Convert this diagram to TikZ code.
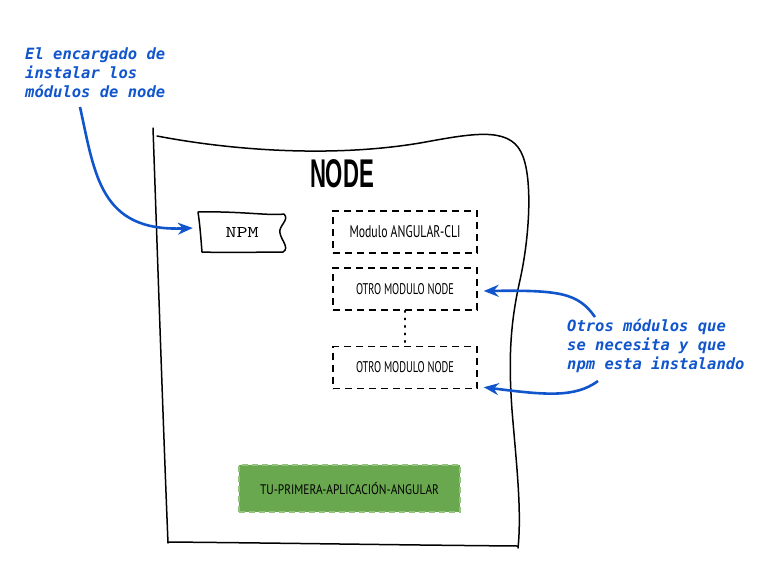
\documentclass[tikz,border=0pt]{standalone}
\usepackage{fontspec}
\usetikzlibrary{arrows.meta}
\newfontfamily\annfont{DejaVu Sans Mono}
\newfontfamily\handfont{PT Sans}
\newfontfamily\titlefont{Liberation Sans}
\definecolor{annblue}{HTML}{1155CC}
\definecolor{appgreen}{HTML}{6AA84F}
\definecolor{appborder}{HTML}{93C47D}
\tikzset{
  sketch/.style={line width=1.5pt, line cap=round, line join=round},
  modbox/.style={draw, line width=1.4pt, dash pattern=on 7pt off 5pt, minimum width=144pt, minimum height=42pt, inner sep=0pt},
  annot/.style={font=\annfont\fontsize{15.5}{19}\selectfont\bfseries\itshape, text=annblue, align=left, inner sep=0pt, anchor=north west},
  annarrow/.style={draw=annblue, line width=2.6pt, -{Stealth[length=15pt,width=12pt,inset=5pt]}},
}
\begin{document}
\begin{tikzpicture}[x=1pt,y=-1pt]
\useasboundingbox (0,0) rectangle (762,566);
% big NODE outline
\draw[sketch] (153,128) .. controls (158,270) and (163,420) .. (168,543);
\draw[sketch] (157,136) .. controls (230,150) and (330,158) .. (420,143)
  .. controls (470,134) and (508,126) .. (521,152)
  .. controls (533,175) and (530,235) .. (520,280)
  .. controls (511,320) and (508,355) .. (512,410)
  .. controls (516,460) and (522,510) .. (518,548);
\draw[sketch] (168,542) .. controls (280,543) and (400,545) .. (518,546);
% title
\node (title) at (342,174) {\resizebox{64pt}{28pt}{\titlefont\bfseries NODE}};
% NPM
\node[minimum width=86pt, minimum height=39pt, inner sep=0pt] (npm) at (242,232) {\resizebox{33pt}{10pt}{\ttfamily NPM}};
\draw[sketch] (198,212) .. controls (240,211) and (270,216) .. (284,214)
  .. controls (290,220) and (278,226) .. (280,233)
  .. controls (281,240) and (290,248) .. (283,252)
  .. controls (260,252) and (230,253) .. (202,252)
  .. controls (201,240) and (200,225) .. (198,212);
% module boxes
\node[modbox] (cli) at (405,232) {\resizebox{111pt}{12pt}{\handfont Modulo ANGULAR-CLI}};
\node[modbox] (o1) at (405,289) {\resizebox{98pt}{11pt}{\handfont OTRO MODULO NODE}};
\node[modbox] (o2) at (405,367.5) {\resizebox{98pt}{11pt}{\handfont OTRO MODULO NODE}};
\draw[line width=1.4pt, dash pattern=on 1.5pt off 6pt, line cap=round] (o1.south) -- (o2.north);
% app box
\node[fill=appgreen, draw=appborder, line width=1.3pt, dash pattern=on 6pt off 4pt, minimum width=221pt, minimum height=47pt, inner sep=0pt] (app) at (349.5,488.5) {\resizebox{179pt}{12pt}{\handfont TU-PRIMERA-APLICACIÓN-ANGULAR}};
% annotations
\node[annot] (ann1) at (25,48) {El encargado de\\instalar los\\módulos de node};
\node[annot] (ann2) at (567,319) {Otros módulos que\\se necesita y que\\npm esta instalando};
\coordinate (a1s) at (80,107);
\coordinate (a2s) at (595,317);
\coordinate (a3s) at (598,381);
\draw[annarrow] (a1s) .. controls (95,175) and (100,232) .. ([xshift=-6pt,yshift=4pt]npm.west);
\draw[annarrow] (a2s) .. controls (578,293) and (560,290) .. ([xshift=6pt,yshift=-2pt]o1.east);
\draw[annarrow] (a3s) .. controls (575,398) and (545,395) .. ([xshift=6pt,yshift=2pt]o2.south east);
\end{tikzpicture}
\end{document}
